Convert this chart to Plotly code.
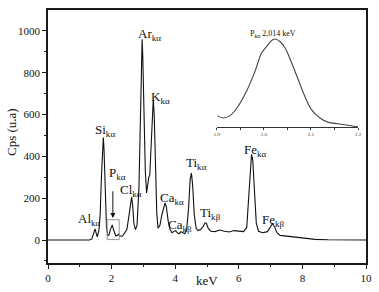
import plotly.graph_objects as go

# Main EDXRF spectrum (keV, counts per second)
energy_kev = [0.0, 1.30, 1.38, 1.43, 1.48, 1.52, 1.55, 1.60, 1.64, 1.68, 1.72, 1.74, 1.76, 1.80,
              1.84, 1.88, 1.92, 1.96, 2.00, 2.02, 2.05, 2.09, 2.13, 2.18, 2.22, 2.26, 2.30, 2.35,
              2.40, 2.48, 2.55, 2.60, 2.63, 2.66, 2.70, 2.75, 2.80, 2.86, 2.90, 2.94, 2.96, 2.98,
              3.02, 3.06, 3.10, 3.13, 3.17, 3.20, 3.24, 3.28, 3.31, 3.34, 3.38, 3.42, 3.46, 3.52,
              3.58, 3.64, 3.68, 3.72, 3.78, 3.84, 3.90, 3.95, 4.01, 4.06, 4.12, 4.18, 4.24, 4.30,
              4.36, 4.42, 4.47, 4.51, 4.55, 4.60, 4.66, 4.72, 4.80, 4.88, 4.94, 4.98, 5.04, 5.12,
              5.25, 5.40, 5.55, 5.70, 5.85, 6.00, 6.15, 6.25, 6.31, 6.36, 6.40, 6.44, 6.49, 6.55,
              6.62, 6.75, 6.90, 6.98, 7.06, 7.12, 7.20, 7.30, 7.60, 8.00, 8.40, 8.80, 9.20, 10.0]
counts_cps = [0, 0, 5, 30, 53, 30, 15, 45, 120, 300, 460, 490, 440, 200,
              60, 20, 25, 50, 70, 72, 55, 30, 20, 22, 28, 20, 18, 20,
              30, 50, 120, 190, 205, 170, 80, 50, 70, 250, 600, 900, 960, 880,
              550, 330, 225, 260, 300, 310, 450, 620, 670, 600, 350, 130, 57, 70,
              120, 165, 177, 160, 90, 50, 35, 40, 45, 35, 30, 40, 35, 30,
              50, 150, 290, 320, 260, 120, 55, 45, 50, 65, 82, 80, 55, 42,
              40, 48, 42, 38, 45, 42, 40, 60, 200, 370, 410, 380, 220, 80,
              42, 35, 40, 60, 78, 65, 35, 22, 17, 10, 3, 1, 0, 0]

# Inset: P K-alpha peak detail
inset_kev = [1.901, 1.913, 1.928, 1.945, 1.963, 1.981, 1.995, 2.006, 2.016, 2.023, 2.034,
             2.045, 2.059, 2.073, 2.087, 2.101, 2.119, 2.137, 2.158, 2.179, 2.200]
inset_counts = [9.3, 7.4, 9.3, 16.9, 29.2, 45.5, 60.5, 66.0, 70.6, 72.0, 70.0,
                64.6, 52.4, 38.7, 25.0, 14.2, 7.4, 3.8, 2.7, 1.4, 0.0]
inset_ticks = [1.9, 2.0, 2.1, 2.2]

# Peak labels
label_text = ["Al<sub>kα</sub>", "Si<sub>kα</sub>", "P<sub>kα</sub>", "Cl<sub>kα</sub>",
              "Ar<sub>kα</sub>", "K<sub>kα</sub>", "Ca<sub>kα</sub>", "Ca<sub>kβ</sub>",
              "Ti<sub>kα</sub>", "Ti<sub>kβ</sub>", "Fe<sub>kα</sub>", "Fe<sub>kβ</sub>"]
label_x = [1.32, 1.79, 2.20, 2.60, 3.20, 3.55, 3.90, 4.15, 4.68, 5.10, 6.54, 7.10]
label_y = [100, 525, 320, 235, 985, 680, 200, 68, 365, 125, 428, 92]

serif = "Liberation Serif"
axis_col = "#1a1a1a"
ink = "#111111"

fig = go.Figure()
fig.add_trace(go.Scatter(x=energy_kev, y=counts_cps, mode="lines",
                         line=dict(color=ink, width=1.1), showlegend=False,
                         xaxis="x", yaxis="y"))
fig.add_trace(go.Scatter(x=inset_kev, y=inset_counts, mode="lines",
                         line=dict(color="#444444", width=1.1, shape="spline"), showlegend=False,
                         xaxis="x2", yaxis="y2"))

annotations = []
for t, x, y in zip(label_text, label_x, label_y):
    annotations.append(dict(x=x, y=y, xref="x", yref="y", text=t, showarrow=False,
                            xanchor="center", yanchor="middle",
                            font=dict(family=serif, size=13, color=ink)))
# arrow to P peak box
annotations.append(dict(x=2.04, y=105, xref="x", yref="y", ax=2.04, ay=240,
                        axref="x", ayref="y", text="", showarrow=True, arrowhead=2,
                        arrowsize=1, arrowwidth=1, arrowcolor=ink))
# inset label
annotations.append(dict(x=0.708, y=0.905, xref="paper", yref="paper",
                        xanchor="center", yanchor="middle",
                        text="P<sub>kα</sub> 2,014 keV", showarrow=False,
                        font=dict(family=serif, size=8, color=ink)))
# axis titles
annotations.append(dict(x=0.5, y=-0.071, xref="paper", yref="paper", text="keV",
                        xanchor="center", yanchor="middle",
                        showarrow=False, font=dict(family=serif, size=13, color=ink)))
annotations.append(dict(x=-0.113, y=0.518, xref="paper", yref="paper", text="Cps (u.a)",
                        xanchor="center", yanchor="middle",
                        textangle=-90, showarrow=False,
                        font=dict(family=serif, size=13, color=ink)))

fig.update_layout(
    width=379, height=292,
    margin=dict(l=48, r=13, t=10, b=29),
    paper_bgcolor="white", plot_bgcolor="white",
    font=dict(family=serif, size=11, color=ink),
    xaxis=dict(domain=[0, 1], range=[0, 10], tickvals=[0, 2, 4, 6, 8, 10], automargin=False,
               showgrid=False, zeroline=False, showline=True, linecolor=axis_col,
               linewidth=1.5, mirror=True, ticks="outside", ticklen=4, tickwidth=1,
               tickcolor=axis_col,
               minor=dict(tickvals=[1, 3, 5, 7, 9], ticks="outside", ticklen=2,
                          tickcolor=axis_col),
               tickfont=dict(family=serif, size=11)),
    yaxis=dict(domain=[0, 1], range=[-110, 1100], tickvals=[0, 200, 400, 600, 800, 1000],
               automargin=False,
               showgrid=False, zeroline=False, showline=True, linecolor=axis_col,
               linewidth=1.5, mirror=True, ticks="outside", ticklen=4, tickwidth=1,
               tickcolor=axis_col,
               minor=dict(tickvals=[-100, 100, 300, 500, 700, 900], ticks="outside",
                          ticklen=2, tickcolor=axis_col),
               tickfont=dict(family=serif, size=11)),
    xaxis2=dict(domain=[0.531, 0.975], anchor="y2", range=[1.9, 2.2], tickvals=inset_ticks,
                ticktext=["1.9", "2.0", "2.1", "2.2"], automargin=False,
                showgrid=False, zeroline=False, showline=True, linecolor="#333333",
                linewidth=1, ticks="outside", ticklen=2, tickcolor="#333333",
                minor=dict(tickvals=[1.95, 2.05, 2.15], ticks="outside", ticklen=1.5,
                           tickcolor="#333333"),
                tickfont=dict(family=serif, size=5, color="#333333")),
    yaxis2=dict(domain=[0.5375, 0.924], anchor="x2", range=[0, 80], visible=False),
    shapes=[dict(type="rect", xref="x", yref="y", x0=1.86, x1=2.24, y0=2, y1=97,
                 line=dict(color="#999999", width=1))],
    annotations=annotations,
)

fig.write_html("out.html", config={"displayModeBar": False},
               post_script="document.body.style.margin='0';document.body.style.padding='0';")
